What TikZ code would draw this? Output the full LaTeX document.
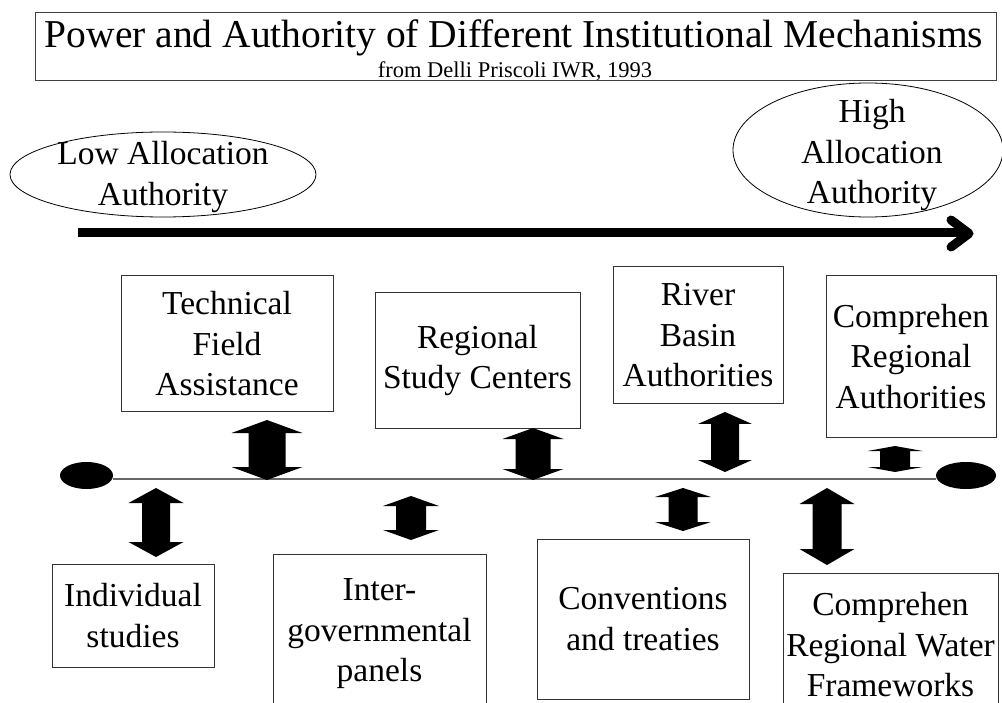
\documentclass[tikz,border=0pt]{standalone}
\usepackage{fontspec}
\setmainfont{Liberation Serif}
\usetikzlibrary{shapes.geometric}
\newcommand{\bodyfont}{\fontsize{33.5}{40.5}\selectfont}
% #1 x centre, #2 top tip, #3 bottom tip, #4 head half width, #5 shaft half width, #6 head length
\newcommand{\dblarrow}[6]{%
  \fill[black] (#1,#2) -- (#1+#4,#2+#6) -- (#1+#5,#2+#6) -- (#1+#5,#3-#6) -- (#1+#4,#3-#6)
    -- (#1,#3) -- (#1-#4,#3-#6) -- (#1-#5,#3-#6) -- (#1-#5,#2+#6) -- (#1-#4,#2+#6) -- cycle;}
\tikzset{
  boxnode/.style={draw=black!80, line width=1pt, inner sep=0pt, align=center, font=\bodyfont},
  ovaltext/.style={inner sep=0pt, align=center, font=\bodyfont},
  oval/.style={draw=black, line width=0.8pt},
  dot/.style={ellipse, fill=black, inner sep=0pt},
  axisline/.style={draw=black!60, line width=1.5pt},
  bigline/.style={line width=9pt},
}
\begin{document}
\begin{tikzpicture}[x=1pt,y=-1pt]
\useasboundingbox (0,0) rectangle (1002,703);
% title
\node[draw=black!75, line width=1pt, minimum width=961pt, minimum height=68pt, inner sep=0pt] (titlebox) at (515.5,47) {};
\node[anchor=base, inner sep=0pt, font=\fontsize{39.5}{44}\selectfont] (title) at (514,48) {Power and Authority of Different Institutional Mechanisms};
\node[anchor=base, inner sep=0pt, font=\fontsize{22.5}{25}\selectfont] (subtitle) at (515,78) {from Delli Priscoli IWR, 1993};
% ovals
\draw[oval] (163,174.5) ellipse [x radius=153pt, y radius=42.5pt];
\node[ovaltext] (low) at (163,177) {Low Allocation\\Authority};
\draw[oval] (868,150) ellipse [x radius=135pt, y radius=67pt];
\node[ovaltext] (high) at (872,155) {High\\Allocation\\Authority};
% big arrow
\coordinate (axisL) at (78,233);
\coordinate (axisR) at (966,233);
\coordinate (tipA) at (951,220);
\coordinate (tip) at (969,233.5);
\coordinate (tipB) at (951,247);
\draw[bigline] (axisL) -- (axisR);
\draw[bigline, line cap=round, line join=round] (tipA) -- (tip) -- (tipB);
% line with end dots
\node[dot, minimum width=53pt, minimum height=27pt] (leftdot) at (86.5,475.5) {};
\node[dot, minimum width=60pt, minimum height=27pt] (rightdot) at (966,475.5) {};
\draw[axisline] ([yshift=-3.5pt]leftdot.east) -- ([yshift=-3.5pt]rightdot.west);
% top boxes
\node[boxnode, minimum width=212pt, minimum height=136pt] (tech) at (227,344) {Technical\\Field\\Assistance};
\node[boxnode, minimum width=205pt, minimum height=135pt] (regional) at (477.5,360.5) {Regional\\Study Centers};
\node[boxnode, minimum width=170pt, minimum height=137pt] (river) at (698,335.5) {River\\Basin\\Authorities};
\node[boxnode, minimum width=170pt, minimum height=161pt] (compra) at (911,356.5) {Comprehen\\Regional\\Authorities};
% bottom boxes
\node[boxnode, minimum width=162pt, minimum height=103pt] (indiv) at (133,615.5) {Individual\\studies};
\node[boxnode, minimum width=213pt, minimum height=160pt] (inter) at (379.5,634) {Inter-\\governmental\\panels};
\node[boxnode, minimum width=212pt, minimum height=160pt] (conv) at (643,619) {Conventions\\and treaties};
\node[boxnode, minimum width=215pt, minimum height=160pt] (comprwbox) at (890.5,653) {};
\node[ovaltext] (comprw) at (890.5,645) {Comprehen\\Regional Water\\Frameworks};
% double arrows above the line
\dblarrow{267}{420}{480}{35.5}{18.5}{13}
\dblarrow{533}{428}{480}{30.5}{17.5}{11}
\dblarrow{725}{412}{472}{27}{14}{12}
\dblarrow{895}{446}{472}{27.5}{15}{5}
% double arrows below the line
\dblarrow{156}{488}{557}{27.5}{14}{15}
\dblarrow{411}{496}{540}{28}{15}{10}
\dblarrow{683}{488}{531}{28}{14.5}{9}
\dblarrow{827}{488}{565}{27.5}{14.5}{16}
\end{tikzpicture}
\end{document}
